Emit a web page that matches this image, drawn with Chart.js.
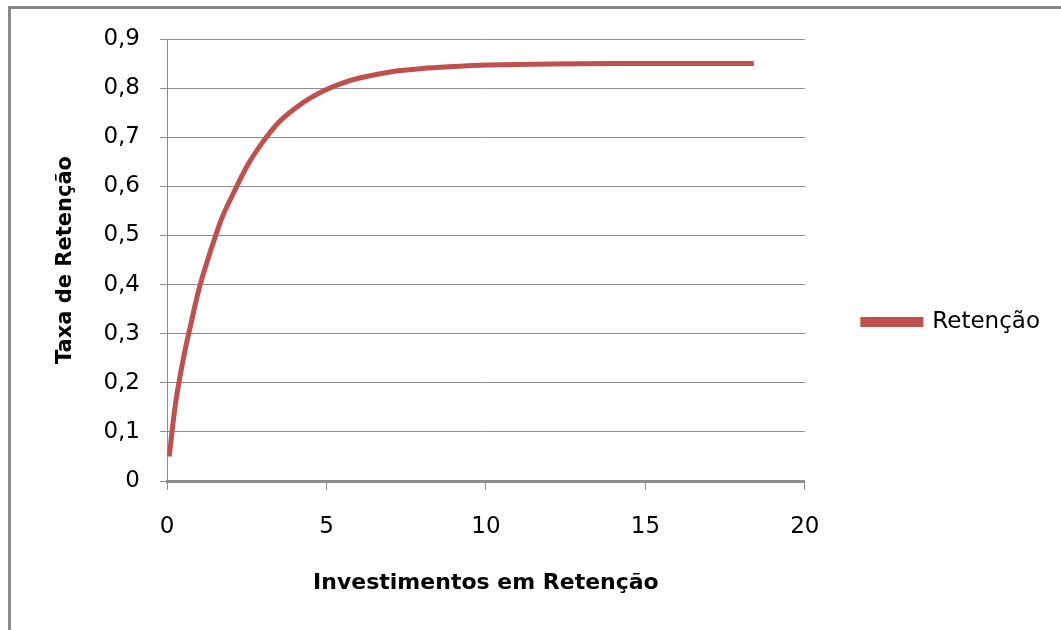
<!DOCTYPE html>
<html>
<head>
<meta charset="utf-8">
<script src="https://cdn.jsdelivr.net/npm/chart.js@4/dist/chart.umd.min.js"></script>
<style>
  html, body { margin: 0; padding: 0; background: #fff; overflow: hidden; }
  canvas { display: block; }
</style>
</head>
<body>
<canvas id="chart" width="1061" height="630"></canvas>
<script>
// Retention rate as a function of retention spending
const investimentos = [0.07, 0.25, 0.5, 0.75, 1, 1.25, 1.5, 1.75, 2, 2.5, 3, 3.5, 4, 4.5, 5, 5.5, 6, 7, 8, 9, 10, 12, 14, 16, 18.4];
const retencao      = [0.05, 0.15, 0.245, 0.32, 0.39, 0.445, 0.495, 0.54, 0.575, 0.64, 0.69, 0.73, 0.758, 0.78, 0.797, 0.81, 0.82, 0.833, 0.84, 0.844, 0.847, 0.849, 0.85, 0.85, 0.85];
const yTickLabels = ['0', '0,1', '0,2', '0,3', '0,4', '0,5', '0,6', '0,7', '0,8', '0,9'];
const xTickLabels = ['0', '5', '10', '15', '20'];
const seriesName = 'Retenção';

const points = investimentos.map((x, i) => ({ x: x, y: retencao[i] }));

const gridGray = '#8c8c8c';
const tickFont = { family: 'DejaVu Sans', size: 23 };

// grey frame along the top and left edges of the chart object
const chartFrame = {
  id: 'chartFrame',
  beforeDraw(chart) {
    const ctx = chart.ctx;
    ctx.save();
    ctx.strokeStyle = '#898989';
    ctx.lineWidth = 3;
    ctx.beginPath();
    ctx.moveTo(9.5, chart.height);
    ctx.lineTo(9.5, 7.5);
    ctx.lineTo(chart.width, 7.5);
    ctx.stroke();
    ctx.restore();
  }
};

new Chart(document.getElementById('chart'), {
  type: 'line',
  data: {
    datasets: [{
      label: seriesName,
      data: points,
      borderColor: '#C0504D',
      backgroundColor: '#C0504D',
      borderWidth: 5,
      pointRadius: 0,
      cubicInterpolationMode: 'monotone',
      fill: false
    }]
  },
  plugins: [chartFrame],
  options: {
    responsive: false,
    animation: false,
    layout: { padding: { top: 39, left: 0, right: 11, bottom: 25 } },
    plugins: {
      tooltip: { enabled: false },
      legend: {
        position: 'right',
        labels: {
          padding: 58,
          boxWidth: 58,
          boxHeight: 5,
          color: '#000',
          font: { family: 'DejaVu Sans', size: 23 }
        }
      }
    },
    scales: {
      x: {
        type: 'linear',
        min: 0, max: 20,
        afterFit: s => { s.height = 605 - 481; },
        ticks: {
          stepSize: 5,
          padding: 23,
          color: '#000',
          font: tickFont,
          maxRotation: 0,
          callback: (v) => xTickLabels[Math.round(v / 5)]
        },
        grid: { drawOnChartArea: false, drawTicks: true, tickLength: 9, color: gridGray, lineWidth: 1 },
        border: { display: true, color: gridGray, width: 3 },
        title: { display: true, text: 'Investimentos em Retenção', color: '#000', font: { family: 'DejaVu Sans', size: 22, weight: 'bold' }, padding: { top: 0, bottom: 9 } }
      },
      y: {
        min: 0, max: 0.9,
        afterFit: s => { s.width = 167; },
        ticks: {
          stepSize: 0.1,
          padding: 20,
          color: '#000',
          font: tickFont,
          callback: (v) => yTickLabels[Math.round(v * 10)]
        },
        grid: { color: gridGray, lineWidth: 1, tickLength: 7 },
        border: { display: true, color: gridGray, width: 1 },
        title: { display: true, text: 'Taxa de Retenção', color: '#000', font: { family: 'DejaVu Sans', size: 21, weight: 'bold' }, padding: { top: 53, bottom: 0 } }
      }
    }
  }
});
</script>
</body>
</html>
